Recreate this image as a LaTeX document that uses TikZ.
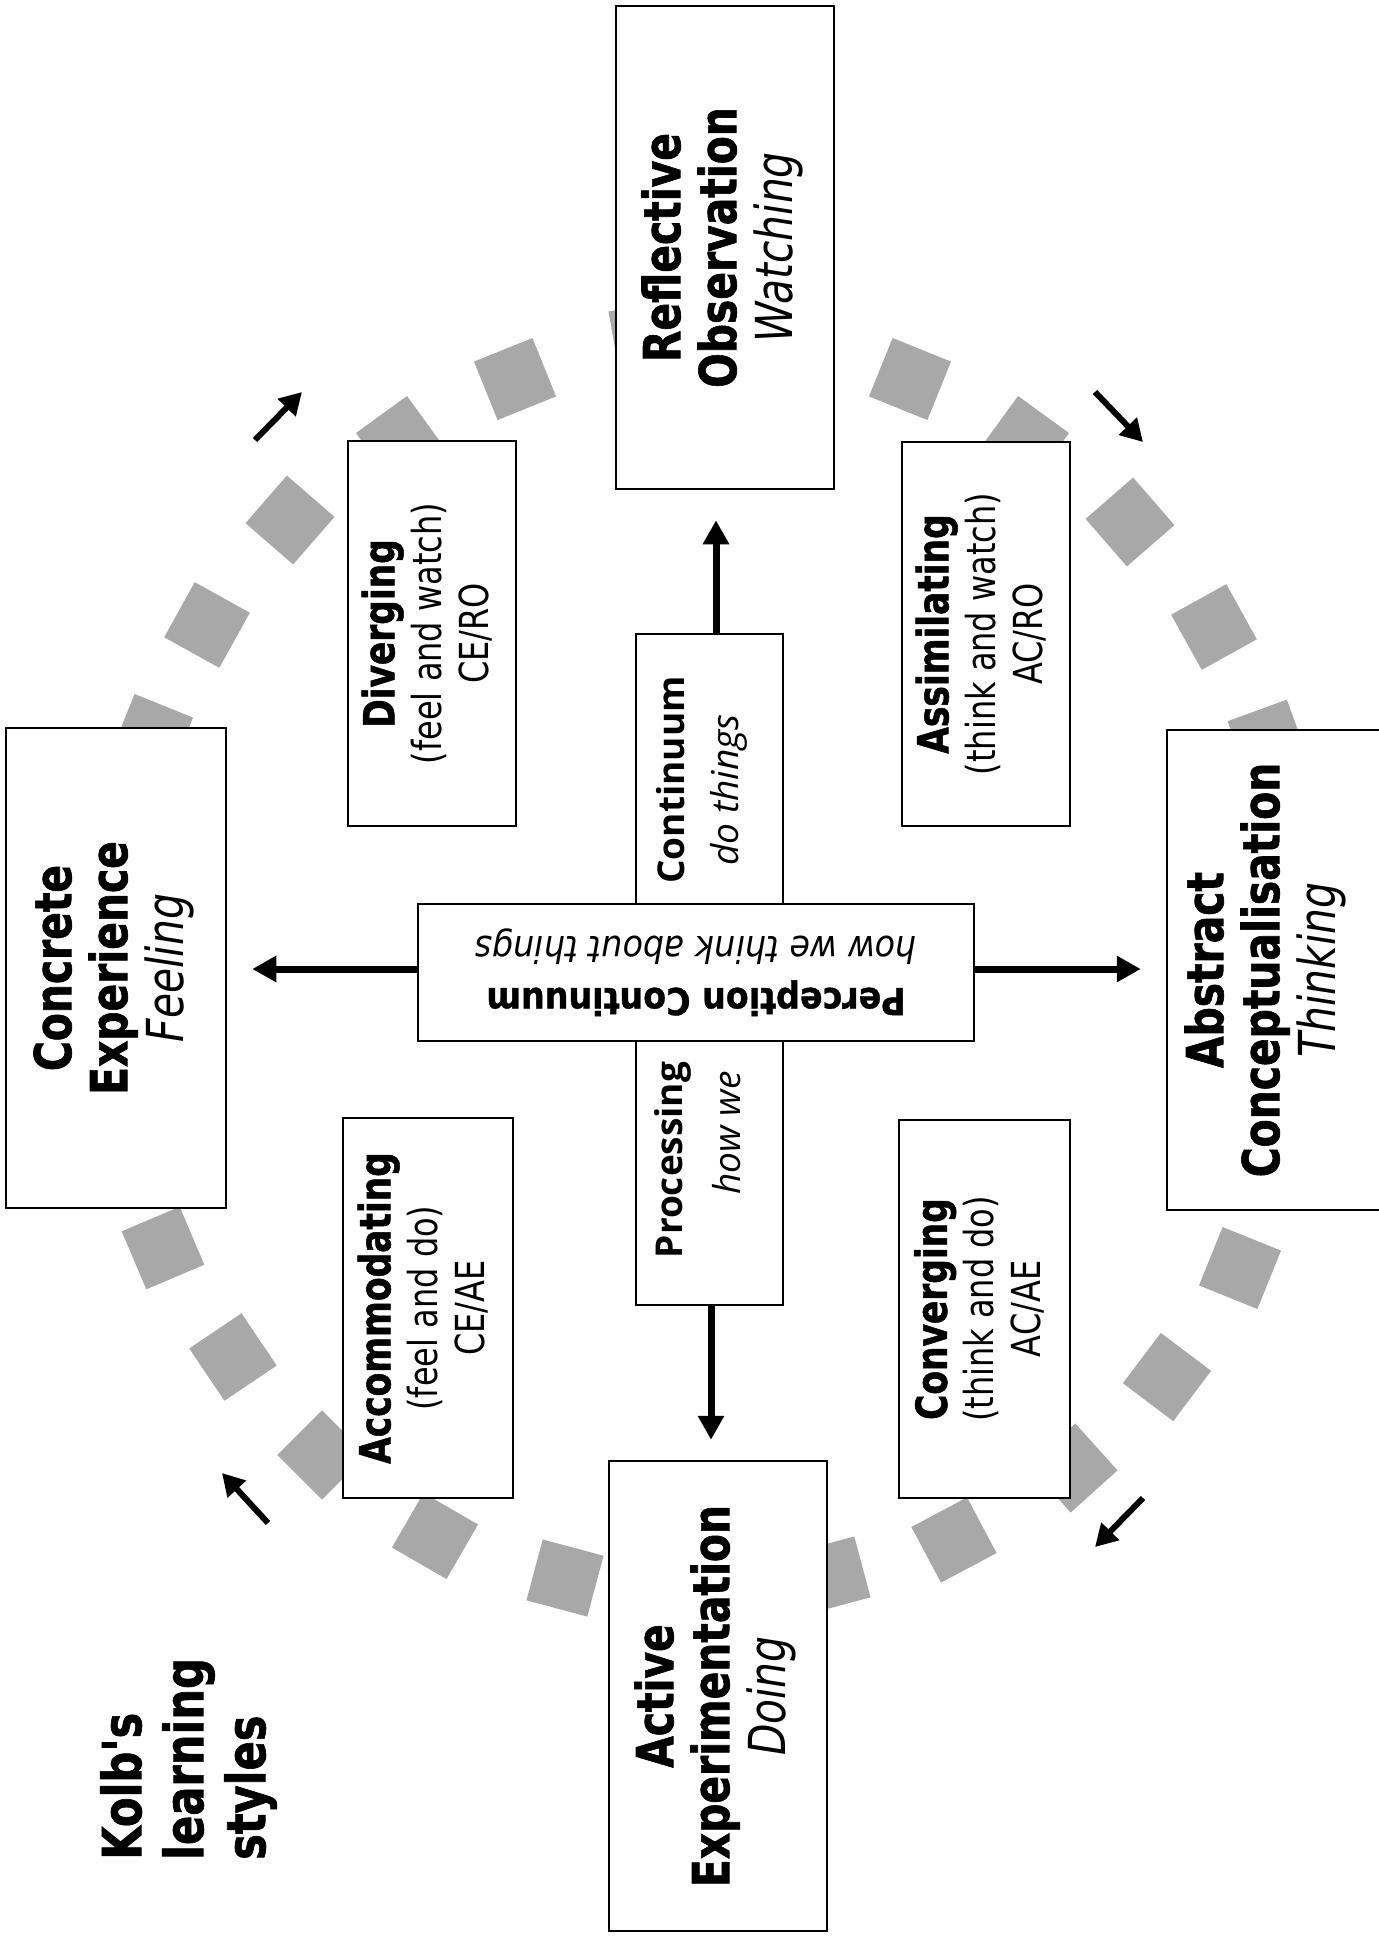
\documentclass[tikz,border=0pt]{standalone}
\usepackage{fontspec}
\usepackage{graphicx}
\usetikzlibrary{arrows.meta,calc}
\newfontfamily\vfont[FakeStretch=0.8,BoldFont={DejaVu Sans Bold},ItalicFont={DejaVu Sans Oblique},BoldFeatures={FakeBold=1.2}]{DejaVu Sans}
\newfontfamily\hfont[FakeStretch=0.9,BoldFont={DejaVu Sans Bold},ItalicFont={DejaVu Sans Oblique},BoldFeatures={FakeBold=1}]{DejaVu Sans}
\newfontfamily\pfont{Open Sans}
\newcommand{\vstack}[1]{\rotatebox{90}{\begin{tabular}{@{}c@{}}#1\end{tabular}}}
\tikzset{
  box/.style={draw=black, line width=2.5pt, fill=white, inner sep=0pt, rectangle},
  diam/.style={fill=black!34, minimum size=63pt, inner sep=0pt, rectangle},
  bigarrow/.style={line width=7pt, -{Triangle[length=24pt,width=25pt]}},
  smallarrow/.style={line width=6pt, -{Triangle[length=22pt,width=24pt]}},
  bigtxt/.style={font=\vfont\fontsize{51pt}{56pt}\selectfont},
  smalltxt/.style={font=\vfont\fontsize{40pt}{47pt}\selectfont},
  ptxtb/.style={rotate=90, inner sep=0pt, font=\pfont\bfseries\fontsize{37pt}{44pt}\selectfont},
  ptxti/.style={rotate=90, inner sep=0pt, font=\pfont\itshape\fontsize{37pt}{44pt}\selectfont},
}
\newcommand{\sbold}[1]{{\fontsize{43pt}{47pt}\selectfont\bfseries #1}}
\begin{document}
\begin{tikzpicture}[x=1pt,y=-1pt]
\path[use as bounding box, fill=white] (0,0) rectangle (1379,1939);

% grey squares around the cycle
\foreach \x/\y/\r [count=\i] in {
  645/337/10, 515/379/22, 400/440/36, 290/520/49, 207/625/61, 152/735/68,
  910/379/-22, 1025/440/-36, 1130/522/-49, 1214/627/-61, 1268/740/-70,
  1240/1268/68, 1167/1377/53, 1073/1468/42, 954/1540/28, 832/1575/15,
  163/1248/-67, 233/1357/-56, 322/1455/-45, 435/1536/-30, 565/1578/-15}
  \node[diam, rotate=\r] (d\i) at (\x,\y) {};

% main boxes
\node[box, minimum width=218pt, minimum height=483pt, bigtxt] (ro) at (725,247.5)
  {\vstack{\bfseries Reflective\\\bfseries Observation\\\itshape Watching}};
\node[box, minimum width=220pt, minimum height=480pt, bigtxt] (ce) at (116,968)
  {\vstack{\bfseries Concrete\\\bfseries Experience\\\itshape Feeling}};
\node[box, minimum width=243pt, minimum height=480pt] (ac) at (1288.5,970) {};
\node[bigtxt, inner sep=0pt] (actxt) at (1268,970)
  {\vstack{\bfseries Abstract\\\bfseries Conceptualisation\\\itshape Thinking}};
\node[box, minimum width=218pt, minimum height=470pt, bigtxt] (ae) at (718,1696)
  {\vstack{\bfseries Active\\\bfseries Experimentation\\\itshape Doing}};

% learning style boxes
\node[box, minimum width=168pt, minimum height=385pt, smalltxt] (div) at (432,633.5)
  {\vstack{\sbold{Diverging}\\(feel and watch)\\CE/RO}};
\node[box, minimum width=168pt, minimum height=384pt, smalltxt] (ass) at (986,634)
  {\vstack{\sbold{Assimilating}\\(think and watch)\\AC/RO}};
\node[box, minimum width=170pt, minimum height=380pt, smalltxt] (acc) at (428,1308)
  {\vstack{\sbold{Accommodating}\\(feel and do)\\CE/AE}};
\node[box, minimum width=171pt, minimum height=378pt, smalltxt] (conv) at (984.5,1309)
  {\vstack{\sbold{Converging}\\(think and do)\\AC/AE}};

% processing continuum (vertical) and perception continuum (horizontal)
\node[box, minimum width=147pt, minimum height=671pt] (pc) at (709.5,969.5) {};
\node[box, minimum width=556pt, minimum height=137pt, font=\hfont\fontsize{37pt}{52pt}\selectfont] (perc) at (696,972.5)
  {\rotatebox{180}{\begin{tabular}{@{}c@{}}\bfseries Perception Continuum\\\itshape how we think about things\end{tabular}}};
\node[ptxtb] (proc) at (673,1160) {Processing};
\node[ptxti] (howwe) at (727,1133) {how we};
\node[ptxtb] (cont) at (671,780) {Continuum};
\node[ptxti] (dothings) at (729,790) {do things};

% axis arrows
\coordinate (upx) at (716,0);
\coordinate (dnx) at (711,0);
\coordinate (hy) at (0,969);
\draw[bigarrow, shorten >=30pt] (pc.north -| upx) -- (ro.south -| upx);
\draw[bigarrow, shorten >=20pt] (pc.south -| dnx) -- (ae.north -| dnx);
\draw[bigarrow, shorten >=25pt] (perc.west |- hy) -- (ce.east |- hy);
\draw[bigarrow, shorten >=25pt] (perc.east |- hy) -- (ac.west |- hy);

% cycle direction arrows
\coordinate (a1s) at (255,440);  \coordinate (a1e) at (302,392);
\coordinate (a2s) at (1095,392); \coordinate (a2e) at (1143,442);
\coordinate (a3s) at (1143,1498); \coordinate (a3e) at (1095,1547);
\coordinate (a4s) at (268,1523); \coordinate (a4e) at (222,1473);
\draw[smallarrow] (a1s) -- (a1e);
\draw[smallarrow] (a2s) -- (a2e);
\draw[smallarrow] (a3s) -- (a3e);
\draw[smallarrow] (a4s) -- (a4e);

% title
\node[rotate=90, anchor=north west, align=left, inner sep=0pt,
      font=\vfont\bfseries\fontsize{54pt}{62pt}\selectfont] (kolb) at (100,1860)
  {Kolb's\\learning\\styles};
\end{tikzpicture}
\end{document}
